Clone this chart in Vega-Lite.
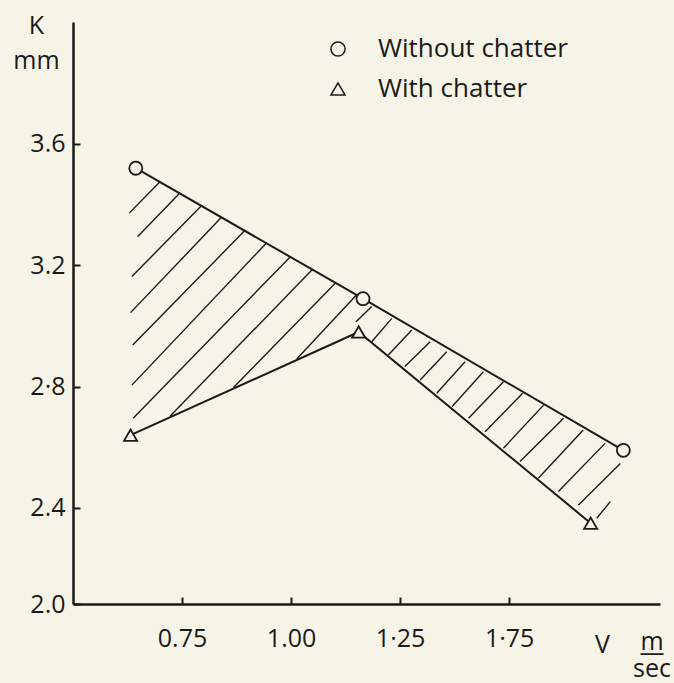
{
  "$schema": "https://vega.github.io/schema/vega-lite/v6.json",
  "width": 587,
  "height": 582,
  "autosize": {"type": "none"},
  "padding": {"left": 73, "top": 22, "right": 14, "bottom": 79},
  "background": "#f6f4e6",
  "config": {
    "view": {"stroke": null},
    "font": "Open Sans",
    "axis": {
      "grid": false,
      "domainColor": "#1a1a1a",
      "domainWidth": 2.5,
      "tickColor": "#1a1a1a",
      "tickWidth": 2,
      "tickSize": -7,
      "labelColor": "#1a1a1a",
      "labelFontSize": 25,
      "labelFont": "Open Sans",
      "titleFont": "Open Sans",
      "titleFontSize": 25,
      "titleFontWeight": "normal",
      "titleColor": "#1a1a1a"
    },
    "legend": {
      "labelFont": "Open Sans",
      "labelFontSize": 26,
      "labelColor": "#1a1a1a",
      "labelLimit": 400
    }
  },
  "title": {
    "text": "m",
    "subtitle": ["—", "sec"],
    "orient": "top",
    "anchor": "end",
    "frame": "group",
    "align": "center",
    "dx": -8,
    "dy": 669,
    "offset": 0,
    "font": "Open Sans",
    "fontSize": 25,
    "fontWeight": "normal",
    "color": "#1a1a1a",
    "subtitleFont": "Open Sans",
    "subtitleFontSize": 25,
    "subtitleColor": "#1a1a1a",
    "subtitlePadding": -14,
    "subtitleLineHeight": 16
  },
  "datasets": {
    "points": [
      {"V": 0.644, "K": 3.52, "series": "Without chatter"},
      {"V": 1.165, "K": 3.09, "series": "Without chatter"},
      {"V": 1.762, "K": 2.59, "series": "Without chatter"},
      {"V": 0.632, "K": 2.64, "series": "With chatter"},
      {"V": 1.155, "K": 2.98, "series": "With chatter"},
      {"V": 1.687, "K": 2.35, "series": "With chatter"}
    ],
    "hatch": [
      {"V": 0.629, "K": 3.372, "V2": 0.700, "K2": 3.476},
      {"V": 0.648, "K": 3.294, "V2": 0.745, "K2": 3.438},
      {"V": 0.635, "K": 3.163, "V2": 0.795, "K2": 3.397},
      {"V": 0.632, "K": 3.044, "V2": 0.841, "K2": 3.359},
      {"V": 0.637, "K": 2.937, "V2": 0.895, "K2": 3.316},
      {"V": 0.635, "K": 2.805, "V2": 0.944, "K2": 3.274},
      {"V": 0.638, "K": 2.696, "V2": 0.999, "K2": 3.229},
      {"V": 0.723, "K": 2.703, "V2": 1.050, "K2": 3.188},
      {"V": 0.868, "K": 2.797, "V2": 1.103, "K2": 3.143},
      {"V": 1.013, "K": 2.891, "V2": 1.151, "K2": 3.104},
      {"V": 1.149, "K": 3.014, "V2": 1.185, "K2": 3.064},
      {"V": 1.185, "K": 2.948, "V2": 1.231, "K2": 3.025},
      {"V": 1.223, "K": 2.904, "V2": 1.277, "K2": 2.987},
      {"V": 1.261, "K": 2.866, "V2": 1.319, "K2": 2.948},
      {"V": 1.296, "K": 2.822, "V2": 1.357, "K2": 2.915},
      {"V": 1.334, "K": 2.778, "V2": 1.399, "K2": 2.882},
      {"V": 1.369, "K": 2.734, "V2": 1.441, "K2": 2.849},
      {"V": 1.407, "K": 2.696, "V2": 1.487, "K2": 2.816},
      {"V": 1.445, "K": 2.651, "V2": 1.531, "K2": 2.778},
      {"V": 1.487, "K": 2.597, "V2": 1.579, "K2": 2.739},
      {"V": 1.525, "K": 2.553, "V2": 1.625, "K2": 2.696},
      {"V": 1.567, "K": 2.498, "V2": 1.670, "K2": 2.657},
      {"V": 1.613, "K": 2.454, "V2": 1.720, "K2": 2.613},
      {"V": 1.659, "K": 2.410, "V2": 1.755, "K2": 2.547},
      {"V": 1.701, "K": 2.366, "V2": 1.732, "K2": 2.421}
    ]
  },
  "encoding": {
    "x": {
      "field": "V",
      "type": "quantitative",
      "scale": {"domain": [0.5, 1.846], "nice": false, "zero": false},
      "axis": {
        "values": [0.75, 1, 1.25, 1.5],
        "labelExpr": "datum.value == 0.75 ? '0.75' : datum.value == 1 ? '1.00' : datum.value == 1.25 ? '1·25' : '1·75'",
        "labelPadding": 29,
        "title": "V",
        "titleX": 529,
        "titleY": 40,
        "titleAlign": "center",
        "titleBaseline": "middle"
      }
    },
    "y": {
      "field": "K",
      "type": "quantitative",
      "scale": {"domain": [2.0835, 4.002], "nice": false, "zero": false},
      "axis": {
        "values": [2.0835, 2.4, 2.8, 3.2, 3.6],
        "labelExpr": "datum.value < 2.2 ? '2.0' : datum.value == 2.4 ? '2.4' : datum.value == 2.8 ? '2·8' : datum.value == 3.2 ? '3.2' : '3.6'",
        "labelPadding": 15,
        "title": ["K", "mm"],
        "titleAngle": 0,
        "titleX": -37,
        "titleY": -9,
        "titleAlign": "center",
        "titleBaseline": "top",
        "titleLineHeight": 35
      }
    }
  },
  "layer": [
    {
      "data": {"name": "hatch"},
      "mark": {"type": "rule", "stroke": "#1a1a1a", "strokeWidth": 1.4},
      "encoding": {
        "x2": {"field": "V2"},
        "y2": {"field": "K2"}
      }
    },
    {
      "data": {"name": "points"},
      "mark": {"type": "line", "stroke": "#1a1a1a", "strokeWidth": 2},
      "encoding": {"detail": {"field": "series", "type": "nominal"}}
    },
    {
      "data": {"name": "points"},
      "mark": {"type": "point", "filled": false, "color": "#1a1a1a", "fill": "#f6f4e6", "fillOpacity": 1, "strokeWidth": 1.8, "opacity": 1, "size": 170},
      "encoding": {
        "shape": {
          "field": "series",
          "type": "nominal",
          "scale": {"domain": ["Without chatter", "With chatter"], "range": ["circle", "triangle-up"]},
          "legend": {
            "title": null,
            "orient": "none",
            "legendX": 252,
            "legendY": 14,
            "padding": 0,
            "symbolSize": 200,
            "labelOffset": 27,
            "rowPadding": 14,
            "encode": {
              "symbols": {
                "update": {
                  "stroke": {"value": "#1a1a1a"},
                  "fill": {"value": "#f6f4e6"},
                  "strokeWidth": {"value": 1.8},
                  "opacity": {"value": 1},
                  "fillOpacity": {"value": 1},
                  "strokeOpacity": {"value": 1}
                }
              }
            }
          }
        }
      }
    }
  ]
}
